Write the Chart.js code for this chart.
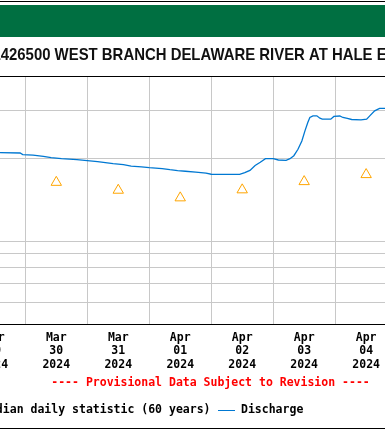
<!DOCTYPE html>
<html>
<head>
<meta charset="utf-8">
<script src="https://cdn.jsdelivr.net/npm/chart.js@4"></script>
<style>
  html, body { margin: 0; padding: 0; background: #fff; overflow: hidden; }
  canvas { display: block; }
</style>
</head>
<body>
<canvas id="chart" width="385" height="430"></canvas>
<script>
// hours counted from 2024-03-29 00:00
const hours = [14.2, 22, 23, 27, 31, 34, 38, 44, 48, 52, 55, 58, 62, 65, 69, 72, 77, 80, 83, 86, 90, 94, 96, 107,
  109, 111, 113, 115, 117, 120, 122, 125, 126.5, 128, 129.6, 131.1, 132.3, 133.4, 134.2, 135.4, 136.9, 138.1,
  139, 142.3, 143.5, 145.8, 147, 148.7, 150.4, 154, 156.2, 157.4, 159.3, 161.2, 163.3];
const discharge = [2104, 2097, 2069, 2060, 2040, 2017, 2000, 1984, 1967, 1950, 1934, 1918, 1902, 1878, 1868, 1855,
  1839, 1823, 1810, 1800, 1787, 1772, 1755, 1753, 1778, 1813, 1890, 1940, 2000, 2000, 1978, 1972, 2000, 2050,
  2164, 2320, 2524, 2709, 2825, 2864, 2864, 2809, 2785, 2785, 2849, 2860, 2825, 2802, 2778, 2770, 2785, 2864,
  2987, 3048, 3050];

const medianHours = [36, 60, 84, 108, 132, 156];
const medianValues = [1640, 1535, 1440, 1540, 1650, 1750];

const dayNoons = [12, 36, 60, 84, 108, 132, 156, 180];
const dayLabels = [
  ['Mar', '29', '2024'], ['Mar', '30', '2024'], ['Mar', '31', '2024'], ['Apr', '01', '2024'],
  ['Apr', '02', '2024'], ['Apr', '03', '2024'], ['Apr', '04', '2024'], ['Apr', '05', '2024']
];
const dayMidnights = [0, 24, 48, 72, 96, 120, 144, 168];
const yGridValues = [500, 600, 700, 800, 900, 1000, 2000, 3000, 4000];

const title = 'USGS 01426500 WEST BRANCH DELAWARE RIVER AT HALE EDDY NY';
const monoFont = 'bold 11.5px "DejaVu Sans Mono"';

const decorations = {
  id: 'decorations',
  beforeDraw(chart) {
    const ctx = chart.ctx;
    ctx.save();
    ctx.fillStyle = '#fff';
    ctx.fillRect(0, 0, 385, 430);
    ctx.fillStyle = '#000';
    ctx.fillRect(0, 1, 385, 1);
    ctx.fillRect(0, 428, 385, 1);
    ctx.fillStyle = '#006f41';
    ctx.fillRect(0, 5, 385, 32);

    // title, squeezed like the original
    ctx.font = 'bold 17px "Liberation Sans"';
    ctx.fillStyle = '#111';
    ctx.textBaseline = 'alphabetic';
    const pre = ctx.measureText('USGS 01').width;
    const mid = ctx.measureText('426500 WEST BRANCH DELAWARE RIVER AT HALE ').width;
    const s = 376 / mid;
    ctx.translate(0.7 - pre * s, 60);
    ctx.scale(s, 1);
    ctx.fillText(title, 0, 0);
    ctx.restore();
  },
  afterDraw(chart) {
    const ctx = chart.ctx;
    const xs = chart.scales.x;
    ctx.save();
    ctx.font = monoFont;
    ctx.fillStyle = '#000';
    ctx.textAlign = 'center';
    ctx.textBaseline = 'middle';
    dayNoons.forEach((h, i) => {
      const x = xs.getPixelForValue(h);
      dayLabels[i].forEach((t, j) => ctx.fillText(t, x, 338 + j * 13.3));
    });

    ctx.fillStyle = '#ff0000';
    ctx.fillText('---- Provisional Data Subject to Revision ----', 210.5, 383);

    // legend
    ctx.fillStyle = '#000';
    ctx.textAlign = 'right';
    const medText = 'Median daily statistic (60 years)';
    ctx.fillText(medText, 210.5, 410);
    const mx = 210.5 - ctx.measureText(medText).width - 10;
    ctx.strokeStyle = '#ffa500';
    ctx.lineWidth = 1;
    ctx.beginPath();
    ctx.moveTo(mx, 405);
    ctx.lineTo(mx + 5, 414);
    ctx.lineTo(mx - 5, 414);
    ctx.closePath();
    ctx.stroke();

    ctx.strokeStyle = '#0078d2';
    ctx.beginPath();
    ctx.moveTo(218, 410.5);
    ctx.lineTo(235, 410.5);
    ctx.stroke();
    ctx.textAlign = 'left';
    ctx.fillText('Discharge', 241, 410);
    ctx.restore();
  }
};

new Chart(document.getElementById('chart'), {
  type: 'line',
  data: {
    datasets: [
      {
        label: 'Discharge',
        data: hours.map((h, i) => ({ x: h, y: discharge[i] })),
        borderColor: '#0078d2',
        borderWidth: 1.3,
        pointRadius: 0,
        tension: 0,
        fill: false
      },
      {
        label: 'Median daily statistic (60 years)',
        data: medianHours.map((h, i) => ({ x: h, y: medianValues[i] })),
        showLine: false,
        pointStyle: 'triangle',
        pointRadius: 6,
        pointBorderWidth: 1,
        pointBorderColor: '#ffa500',
        pointBackgroundColor: 'rgba(0,0,0,0)'
      }
    ]
  },
  options: {
    responsive: false,
    animation: false,
    layout: { autoPadding: false, padding: { top: 76, bottom: 106, left: 0, right: 0 } },
    plugins: { legend: { display: false }, tooltip: { enabled: false } },
    scales: {
      x: {
        type: 'linear',
        min: 14.2,
        max: 163.3,
        afterBuildTicks: axis => { axis.ticks = dayMidnights.map(v => ({ value: v })); },
        ticks: { display: false, autoSkip: false },
        grid: { color: '#c8c8c8', lineWidth: 1, drawTicks: false },
        border: { display: false }
      },
      y: {
        type: 'logarithmic',
        min: 500,
        max: 4000,
        afterBuildTicks: axis => { axis.ticks = yGridValues.map(v => ({ value: v })); },
        ticks: { display: false },
        grid: {
          color: c => (c.tick.value === 500 || c.tick.value === 4000) ? '#000' : '#c8c8c8',
          lineWidth: 1,
          drawTicks: false
        },
        border: { display: false }
      }
    }
  },
  plugins: [decorations]
});
</script>
</body>
</html>
